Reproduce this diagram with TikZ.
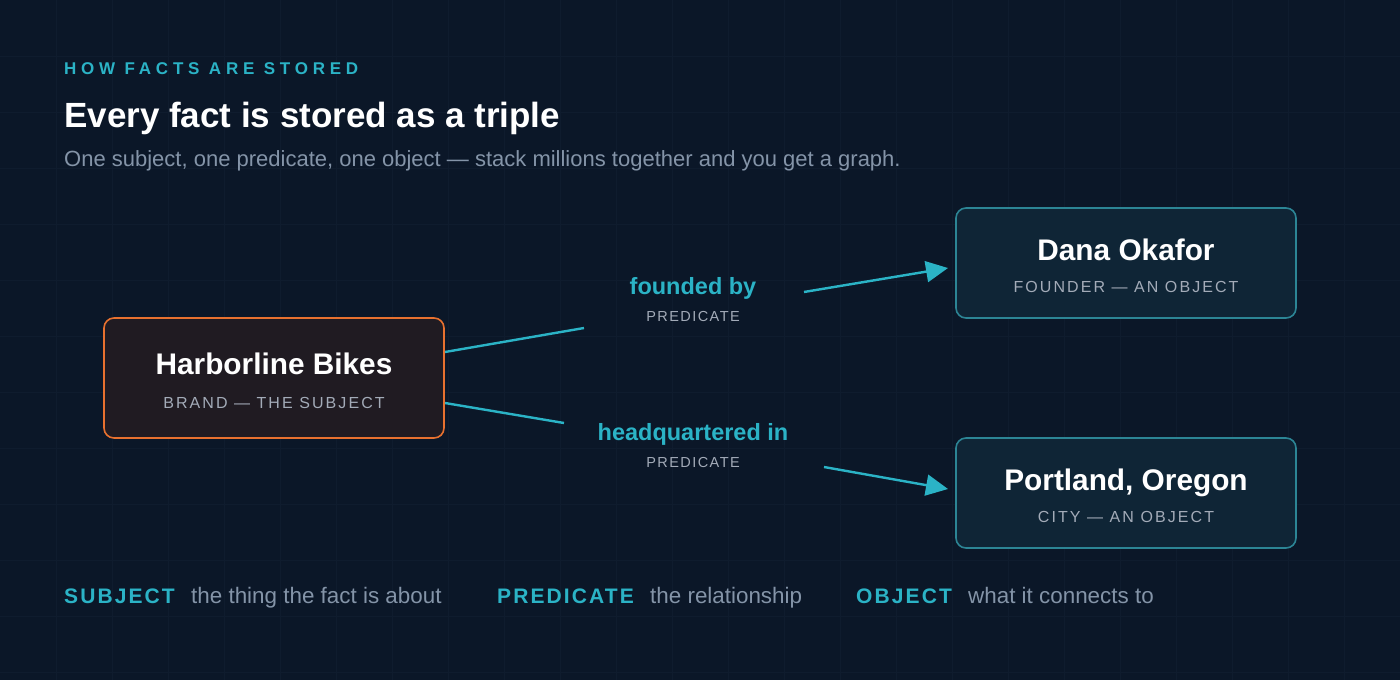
\documentclass[tikz,border=0pt]{standalone}
\usepackage{fontspec}
\setmainfont{Liberation Sans}
\usetikzlibrary{arrows.meta}
\definecolor{bg}{HTML}{0B1728}
\definecolor{gridc}{HTML}{0F1C2E}
\definecolor{teal}{HTML}{2BB3C6}
\definecolor{subt}{HTML}{8494A8}
\definecolor{cap}{HTML}{A3ABB8}
\definecolor{orng}{HTML}{E8712F}
\definecolor{sfill}{HTML}{201B22}
\definecolor{oline}{HTML}{2C8595}
\definecolor{ofill}{HTML}{0F2536}
\begin{document}
\begin{tikzpicture}[x=1pt,y=-1pt,
  box/.style={draw,rounded corners=10pt,line width=1.6pt,minimum width=340pt},
  subj/.style={box,draw=orng,fill=sfill,minimum height=120pt},
  obj/.style={box,draw=oline,fill=ofill,minimum height=110pt},
  big/.style={text=white,font=\fontsize{29.8}{32}\selectfont\bfseries,anchor=base},
  small/.style={text=cap,font=\fontsize{16}{18}\selectfont\addfontfeature{LetterSpace=13},anchor=base},
  pred/.style={text=teal,font=\fontsize{23.5}{26}\selectfont\bfseries,anchor=base},
  predc/.style={text=cap,font=\fontsize{14.5}{16}\selectfont\addfontfeature{LetterSpace=10},anchor=base},
  con/.style={draw=teal,line width=2.4pt},
  arr/.style={con,-{Triangle[length=22pt,width=21pt]}},
  leg/.style={text=teal,font=\fontsize{21}{23}\selectfont\bfseries\addfontfeature{LetterSpace=10},anchor=base west,inner sep=0},
  legt/.style={text=subt,font=\fontsize{22.4}{24}\selectfont,anchor=base west,inner sep=0}]
\fill[bg] (0,0) rectangle (1400,680);
\useasboundingbox (0,0) rectangle (1400,680);
\foreach \x in {56,112,...,1400} \draw[gridc,line width=0.6pt] (\x,0) -- (\x,680);
\foreach \y in {56,112,...,680} \draw[gridc,line width=0.6pt] (0,\y) -- (1400,\y);

\node[inner sep=0,anchor=base west,text=teal,font=\fontsize{17}{19}\selectfont\bfseries\addfontfeature{LetterSpace=28}] (kick) at (64,74) {HOW FACTS ARE STORED};
\node[inner sep=0,anchor=base west,text=white,font=\fontsize{35}{38}\selectfont\bfseries] (title) at (64,127) {Every fact is stored as a triple};
\node[inner sep=0,anchor=base west,text=subt,font=\fontsize{22}{24}\selectfont] (sub) at (64,166) {One subject, one predicate, one object — stack millions together and you get a graph.};

\node[subj] (s) at (274,378) {};
\node[big] (sT) at (274,374) {Harborline Bikes};
\node[small] (sC) at (274,408) {BRAND — THE SUBJECT};

\node[obj] (o1) at (1126,263) {};
\node[big] (o1T) at (1126,260) {Dana Okafor};
\node[small] (o1C) at (1126,292) {FOUNDER — AN OBJECT};

\node[obj] (o2) at (1126,493) {};
\node[big] (o2T) at (1126,490) {Portland, Oregon};
\node[small] (o2C) at (1126,522) {CITY — AN OBJECT};

\node[pred] (p1) at (693,294) {founded by};
\node[predc] (p1c) at (693,321) {PREDICATE};
\node[pred] (p2) at (693,440) {headquartered in};
\node[predc] (p2c) at (693,467) {PREDICATE};

\coordinate (a1) at (445,352); \coordinate (a2) at (584,328);
\coordinate (b1) at (804,292); \coordinate (b2) at (948,268);
\coordinate (c1) at (445,403); \coordinate (c2) at (564,423);
\coordinate (d1) at (824,467); \coordinate (d2) at (948,489);
\draw[con] (a1) -- (a2);
\draw[arr] (b1) -- (b2);
\draw[con] (c1) -- (c2);
\draw[arr] (d1) -- (d2);

\node[leg] (l1) at (64,603) {SUBJECT};
\node[legt] (l1t) at (191,603) {the thing the fact is about};
\node[leg] (l2) at (497,603) {PREDICATE};
\node[legt] (l2t) at (650,603) {the relationship};
\node[leg] (l3) at (856,603) {OBJECT};
\node[legt] (l3t) at (968,603) {what it connects to};
\end{tikzpicture}
\end{document}
